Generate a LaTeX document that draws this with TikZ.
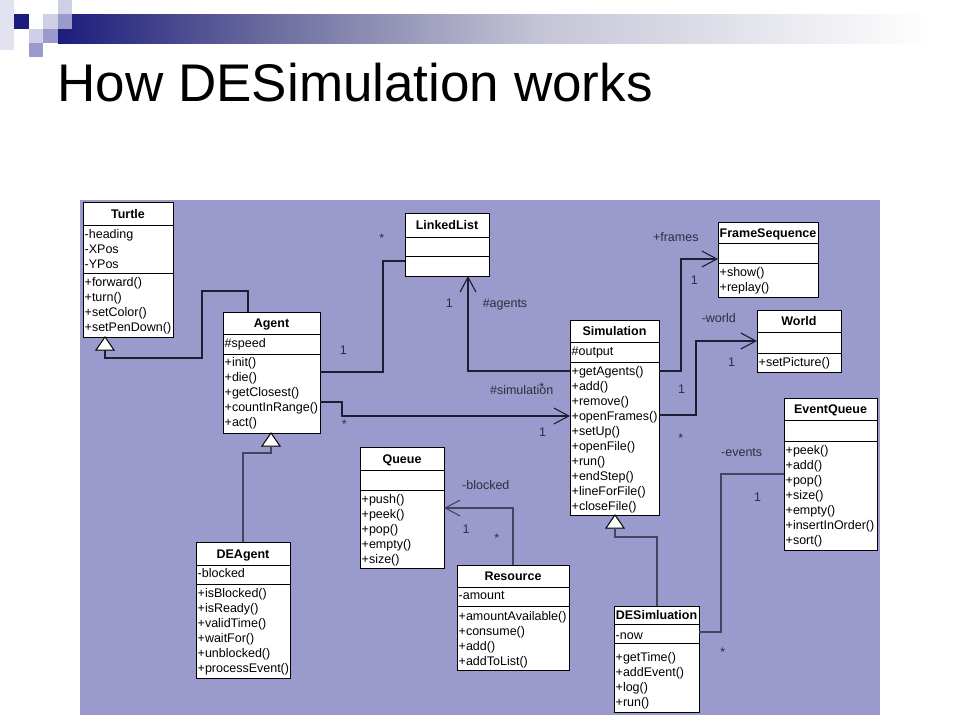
\documentclass[tikz,border=0pt]{standalone}
\usepackage{fontspec}
\setmainfont{Liberation Sans}
\usetikzlibrary{arrows.meta}
\definecolor{panel}{HTML}{9A9ACC}
\definecolor{navyc}{HTML}{1C1C7C}
\definecolor{barA}{HTML}{6E6EA0}
\definecolor{barB}{HTML}{C4C4D6}
\definecolor{sqlight}{HTML}{CFCFE6}
\definecolor{sqmed}{HTML}{9A9ACC}
\definecolor{sqstrip}{HTML}{E2E2F0}
\definecolor{linec}{HTML}{1E1E32}
\definecolor{lineg}{HTML}{45455F}
\definecolor{lblc}{HTML}{2E2E3E}
\pgfdeclarehorizontalshading{barshade}{100bp}{color(0bp)=(navyc); color(25bp)=(navyc); color(37.5bp)=(barA); color(52.5bp)=(barB); color(75bp)=(white); color(100bp)=(white)}
\tikzset{
  clsbox/.style={draw=black, fill=white, line width=1pt, inner sep=0pt, outer sep=0pt},
  boxline/.style={draw=black, line width=1pt},
  ttl/.style={font=\bfseries\fontsize{12.5}{15}\selectfont, anchor=base, inner sep=0pt},
  rowtxt/.style={font=\fontsize{12.5}{15}\selectfont, anchor=base west, inner sep=0pt},
  lbl/.style={font=\fontsize{12.5}{15}\selectfont, text=lblc, anchor=base, inner sep=0pt},
  conn/.style={draw=linec, line width=1.1pt},
  conng/.style={draw=lineg, line width=1.1pt},
  assoc/.style={-{Straight Barb[length=15pt,width=16pt]}},
  gentri/.style={draw=black, fill=white, line width=1pt}
}
% class box: name, x1, y1, x2, y2, sep1, sep2, title
\newcommand\umlcls[8]{%
  \node[clsbox, anchor=north west, minimum width=#4-#2, minimum height=#5-#3] (#1) at (#2,#3) {};
  \draw[boxline] (#2,#6) -- (#4,#6);
  \draw[boxline] (#2,#7) -- (#4,#7);
  \node[ttl] (#1-t) at ({(#2+#4)/2},{(#3+#6)/2+4.5}) {#8};
}
% rows: prefix, x, first baseline, list
\newcommand\umlrows[4]{%
  \foreach \t [count=\i from 0] in {#4} {\node[rowtxt] (#1\i) at (#2,#3+15*\i) {\t};}
}
% generalization triangle: apex, base-centre coordinate name
\newcommand\gentriangle[2]{%
  \draw[gentri] (#1) -- ++(-9,13) -- ++(18,0) -- cycle;
  \coordinate (#2) at ([yshift=-13pt]#1);
}
\begin{document}
\begin{tikzpicture}[x=1pt,y=-1pt]
\useasboundingbox (0,0) rectangle (960,720);
\fill[white] (0,0) rectangle (960,720);
% header decoration
\shade[shading=barshade] (58,14) rectangle (930,43);
\fill[sqstrip] (0,0) rectangle (14,50);
\fill[navyc] (14,14) rectangle (29,29);
\fill[sqlight] (43,14) rectangle (58,29);
\fill[sqmed] (58,14) rectangle (72,29);
\fill[sqlight] (29,29) rectangle (43,43);
\fill[sqmed] (43,29) rectangle (58,43);
\fill[sqmed] (29,43) rectangle (43,57);
\fill[sqlight] (58,0) rectangle (72,14);
\node[anchor=base west, font=\fontsize{53}{60}\selectfont, inner sep=0pt] (title) at (57.5,101) {How DESimulation works};
% panel
\fill[panel] (80,200) rectangle (880,715);

% classes
\umlcls{turtle}{83}{202}{173}{337}{225}{273}{Turtle}
\umlrows{ta}{84.5}{238}{-heading,-XPos,-YPos}
\umlrows{to}{84.5}{286.8}{+forward(),+turn(),+setColor(),+setPenDown()}

\umlcls{agent}{223}{312}{320}{433}{334}{354}{Agent}
\umlrows{aa}{224.5}{347}{\#speed}
\umlrows{ao}{224.5}{366.5}{+init(),+die(),+getClosest(),+countInRange(),+act()}

\umlcls{linkedlist}{405}{213}{489}{276}{237}{256}{LinkedList}

\umlcls{simulation}{570}{320}{659}{515}{342}{362}{Simulation}
\umlrows{sa}{571.5}{355.5}{\#output}
\umlrows{so}{571.5}{375.5}{+getAgents(),+add(),+remove(),+openFrames(),+setUp(),+openFile(),+run(),+endStep(),+lineForFile(),+closeFile()}

\umlcls{framesequence}{718}{222}{818}{297}{243}{263}{FrameSequence}
\umlrows{fo}{719.5}{276.2}{+show(),+replay()}

\umlcls{world}{757}{310}{841}{372}{332}{353}{World}
\umlrows{wo}{758.5}{366.2}{+setPicture()}

\umlcls{eventqueue}{784}{398}{877}{550}{420}{441}{EventQueue}
\umlrows{eo}{785.5}{454.5}{+peek(),+add(),+pop(),+size(),+empty(),+insertInOrder(),+sort()}

\umlcls{queue}{360}{447}{444}{568}{470}{490}{Queue}
\umlrows{qo}{361.5}{503.8}{+push(),+peek(),+pop(),+empty(),+size()}

\umlcls{resource}{457}{565}{569}{670}{587}{606}{Resource}
\umlrows{ra}{458.5}{599.5}{-amount}
\umlrows{ro}{458.5}{620.2}{+amountAvailable(),+consume(),+add(),+addToList()}

\umlcls{deagent}{196}{542}{290}{678}{565}{584}{DEAgent}
\umlrows{da}{197.5}{577.8}{-blocked}
\umlrows{do}{197.5}{597.8}{+isBlocked(),+isReady(),+validTime(),+waitFor(),+unblocked(),+processEvent()}

\umlcls{desim}{614}{606}{699}{712}{624}{643}{DESimluation}
\umlrows{dsa}{615.5}{639.5}{-now}
\umlrows{dso}{615.5}{661}{+getTime(),+addEvent(),+log(),+run()}

% generalizations
\gentriangle{turtle.south -| 105,0}{tb}
\draw[conn] (agent.north -| 248,0) |- (202,291) |- (tb |- 0,358) -- (tb);
\gentriangle{agent.south -| 271,0}{ab}
\draw[conng] (deagent.north -| 243,0) |- (ab |- 0,453) -- (ab);
\gentriangle{simulation.south -| 615,0}{sb}
\draw[conng] (desim.north -| 657,0) |- (sb |- 0,537) -- (sb);

% associations
\draw[conn] (agent.east |- 0,372) -| (383,261) -- (linkedlist.west |- 0,261);
\draw[conn, assoc] (agent.east |- 0,402) -| (342,416) -- (simulation.west |- 0,416);
\draw[conn, assoc] (simulation.west |- 0,371) -| (linkedlist.south -| 468,0);
\draw[conn, assoc] (simulation.east |- 0,371) -| (681,259) -- (framesequence.west |- 0,259);
\draw[conn, assoc] (simulation.east |- 0,415) -| (696,341) -- (world.west |- 0,341);
\draw[conng] (desim.east |- 0,632) -| (721,474) -- (eventqueue.west |- 0,474);
\draw[conng, assoc] (resource.north -| 513,0) |- (queue.east |- 0,508);

% labels
\node[lbl] (l1) at (381.7,242) {*};
\node[lbl] (l2) at (343.3,354.5) {1};
\node[lbl] (l3) at (344.3,428) {*};
\node[lbl] (l4) at (449.3,307.8) {1};
\node[lbl] (l5) at (505,307.8) {\#agents};
\node[lbl] (l6) at (521.7,394.5) {\#simulation};
\node[lbl] (l7) at (541.7,391.3) {*};
\node[lbl] (l8) at (542.7,436.8) {1};
\node[lbl] (l9) at (675.8,241.2) {+frames};
\node[lbl] (l10) at (694.3,284.5) {1};
\node[lbl] (l11) at (718.8,322.8) {-world};
\node[lbl] (l12) at (731.7,366.8) {1};
\node[lbl] (l13) at (681.7,393.5) {1};
\node[lbl] (l14) at (680.7,442) {*};
\node[lbl] (l15) at (741.7,456.2) {-events};
\node[lbl] (l16) at (757.7,501.2) {1};
\node[lbl] (l17) at (722.7,656.3) {*};
\node[lbl] (l18) at (485.8,489.5) {-blocked};
\node[lbl] (l19) at (466,533.8) {1};
\node[lbl] (l20) at (496.7,542) {*};
\end{tikzpicture}
\end{document}
